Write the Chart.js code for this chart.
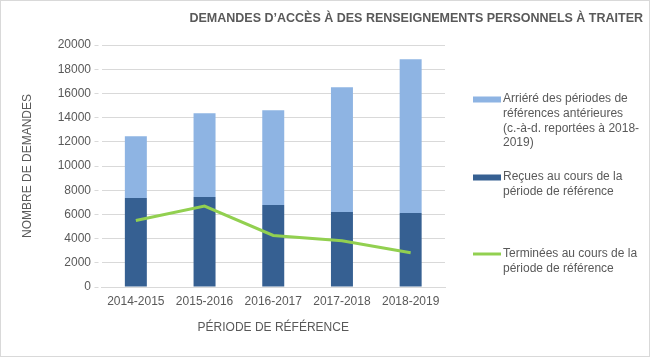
<!DOCTYPE html>
<html><head><meta charset="utf-8">
<script src="https://cdn.jsdelivr.net/npm/chart.js@4/dist/chart.umd.min.js"></script>
<style>html,body{margin:0;padding:0;background:#fff}#wrap{width:650px;height:357px;position:relative}</style>
</head><body><div id="wrap"><canvas id="c" width="650" height="357"></canvas></div>
<script>
const categories = ['2014-2015', '2015-2016', '2016-2017', '2017-2018', '2018-2019'];
const recues = [7350, 7430, 6770, 6190, 6110];
const arriere = [5110, 6930, 7840, 10320, 12710];
const terminees = [5500, 6690, 4260, 3820, 2830];
const yTickValues = [0, 2000, 4000, 6000, 8000, 10000, 12000, 14000, 16000, 18000, 20000];
const chartTitle = 'DEMANDES D\u2019ACCÈS À DES RENSEIGNEMENTS PERSONNELS À TRAITER';
const yTitle = 'NOMBRE DE DEMANDES';
const xTitle = 'PÉRIODE DE RÉFÉRENCE';
const labelArriere = 'Arriéré des périodes de références antérieures (c.-à-d. reportées à 2018-2019)';
const labelRecues = 'Reçues au cours de la période de référence';
const labelTerminees = 'Terminées au cours de la période de référence';
const legendArriere = ['Arriéré des périodes de', 'références antérieures', '(c.-à-d. reportées à 2018-', '2019)'];
const legendRecues = ['Reçues au cours de la', 'période de référence'];
const legendTerminees = ['Terminées au cours de la', 'période de référence'];

const C_LIGHT = '#8EB4E3', C_DARK = '#366092', C_GREEN = '#92D050', TXT = '#595959', GRID = '#D9D9D9';
const FONT = '"Liberation Sans", Arial, sans-serif';

const decor = {
  id: 'decor',
  afterDraw(chart) {
    const ctx = chart.ctx;
    ctx.save();
    ctx.strokeStyle = GRID; ctx.lineWidth = 1;
    ctx.strokeRect(0.5, 0.5, 649, 356);
    // title
    ctx.fillStyle = TXT;
    ctx.font = 'bold 12.5px ' + FONT;
    ctx.textAlign = 'right'; ctx.textBaseline = 'middle';
    ctx.fillText(chartTitle, 643, 19);
    // legend
    const items = [
      {ds: 1, kind: 'box', lines: legendArriere, y: 99},
      {ds: 0, kind: 'box', lines: legendRecues, y: 177},
      {ds: 2, kind: 'line', lines: legendTerminees, y: 254}
    ];
    ctx.font = '12px ' + FONT;
    ctx.textAlign = 'left';
    items.forEach(it => {
      const d = chart.data.datasets[it.ds];
      if (it.kind === 'box') {
        ctx.fillStyle = d.backgroundColor;
        ctx.fillRect(473, it.y - 2.5, 28, 6);
      } else {
        ctx.strokeStyle = d.borderColor; ctx.lineWidth = 3;
        ctx.beginPath(); ctx.moveTo(473, it.y); ctx.lineTo(501, it.y); ctx.stroke();
      }
      ctx.fillStyle = TXT;
      it.lines.forEach((t, i) => ctx.fillText(t, 503, it.y + i * 14.7));
    });
    ctx.restore();
  }
};

new Chart(document.getElementById('c'), {
  data: {
    labels: categories,
    datasets: [
      {type: 'bar', label: labelRecues, data: recues, backgroundColor: C_DARK, stack: 's', order: 1,
       categoryPercentage: 1, barPercentage: 0.32},
      {type: 'bar', label: labelArriere, data: arriere, backgroundColor: C_LIGHT, stack: 's', order: 1,
       categoryPercentage: 1, barPercentage: 0.32},
      {type: 'line', label: labelTerminees, data: terminees, borderColor: C_GREEN, backgroundColor: C_GREEN,
       borderWidth: 3, pointRadius: 0, tension: 0, order: 0}
    ]
  },
  options: {
    responsive: false, animation: false, devicePixelRatio: 1,
    layout: {padding: {top: 45, right: 205, bottom: 0, left: 0}},
    plugins: {legend: {display: false}, tooltip: {enabled: false}, title: {display: false}},
    scales: {
      x: {
        stacked: true,
        grid: {display: false, drawTicks: false},
        border: {color: GRID},
        ticks: {color: TXT, font: {family: FONT, size: 12}, padding: 7, maxRotation: 0},
        title: {display: true, text: xTitle, color: TXT, font: {family: FONT, size: 12}, padding: {top: 0, bottom: 22}},
        afterFit(s) { s.height = 70; }
      },
      y: {
        stacked: true, min: 0, max: 20000,
        afterBuildTicks(s) { s.ticks = yTickValues.map(v => ({value: v})); },
        grid: {color: GRID, drawTicks: true, tickLength: 7, tickColor: GRID, tickBorderDash: [4, 10]},
        border: {display: false},
        ticks: {color: TXT, font: {family: FONT, size: 12}, padding: 3.5, callback: v => String(v)},
        title: {display: true, text: yTitle, color: TXT, font: {family: FONT, size: 12}, padding: {top: 20, bottom: 0}},
        afterFit(s) { s.width = 101.5; }
      }
    }
  },
  plugins: [decor]
});
</script></body></html>
